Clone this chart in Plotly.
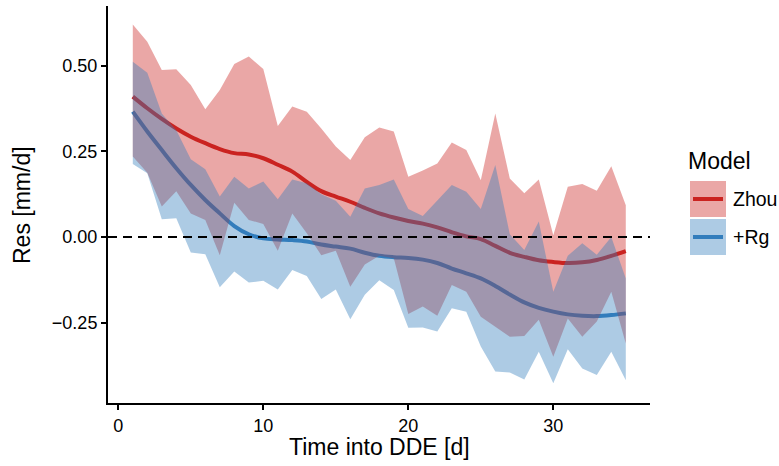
import plotly.graph_objects as go

# ---------------- data ----------------
days = list(range(1, 36))

zhou_upper = [0.621, 0.570, 0.488, 0.490, 0.444, 0.373, 0.429, 0.505, 0.527, 0.491,
              0.324, 0.381, 0.366, 0.317, 0.264, 0.225, 0.291, 0.320, 0.308, 0.176,
              0.194, 0.215, 0.276, 0.254, 0.166, 0.361, 0.171, 0.128, 0.168, 0.005,
              0.147, 0.155, 0.135, 0.207, 0.093]
zhou_lower = [0.235, 0.188, 0.089, 0.134, 0.069, 0.050, -0.053, 0.100, 0.050, 0.038,
              -0.040, 0.069, 0.011, -0.053, -0.040, -0.145, -0.080, -0.055, -0.062, -0.225,
              -0.203, -0.230, -0.140, -0.160, -0.233, -0.262, -0.291, -0.289, -0.242, -0.350,
              -0.238, -0.291, -0.247, -0.160, -0.311]
zhou_smooth = [0.410, 0.376, 0.345, 0.317, 0.293, 0.274, 0.257, 0.245, 0.241, 0.230,
               0.211, 0.191, 0.161, 0.134, 0.118, 0.103, 0.085, 0.069, 0.057, 0.047,
               0.039, 0.028, 0.014, 0.002, -0.006, -0.026, -0.046, -0.058, -0.068, -0.073,
               -0.076, -0.074, -0.067, -0.055, -0.041]

rg_upper = [0.512, 0.480, 0.361, 0.312, 0.227, 0.198, 0.118, 0.176, 0.142, 0.162,
            0.110, 0.168, 0.157, 0.125, 0.106, 0.059, 0.142, 0.152, 0.168, 0.082,
            0.061, 0.108, 0.152, 0.132, 0.082, 0.210, 0.008, -0.038, 0.045, -0.160,
            -0.055, -0.018, -0.052, 0.000, -0.121]
rg_lower = [0.213, 0.186, 0.052, 0.055, -0.045, -0.050, -0.147, -0.101, -0.133, -0.128,
            -0.153, -0.096, -0.114, -0.181, -0.153, -0.240, -0.169, -0.126, -0.155, -0.265,
            -0.264, -0.276, -0.208, -0.218, -0.320, -0.393, -0.396, -0.416, -0.335, -0.427,
            -0.328, -0.384, -0.403, -0.335, -0.418]
rg_smooth = [0.366, 0.308, 0.254, 0.201, 0.152, 0.108, 0.069, 0.032, 0.008, -0.004,
             -0.007, -0.009, -0.013, -0.022, -0.028, -0.034, -0.046, -0.055, -0.059, -0.061,
             -0.066, -0.076, -0.092, -0.106, -0.121, -0.143, -0.168, -0.191, -0.207, -0.218,
             -0.226, -0.230, -0.231, -0.228, -0.223]

series_names = ["Zhou", "+Rg"]
x_ticks = [0, 10, 20, 30]
y_ticks = [-0.25, 0.0, 0.25, 0.50]
y_tick_labels = ["\u22120.25", "0.00", "0.25", "0.50"]
ref_line_y = 0.0

x_title = "Time into DDE [d]"
y_title = "Res [mm/d]"
legend_title = "Model"

# ---------------- style ----------------
RED = (202, 35, 32)
BLUE = (50, 125, 188)
ALPHA = 0.4
FONT = "Liberation Sans, Arial, Helvetica, sans-serif"

def rgba(c, a):
    return f"rgba({c[0]},{c[1]},{c[2]},{a})"

W, H = 779, 466
L, R, T, B = 108, 129, 6, 63
PW, PH = W - L - R, H - T - B

def px(xpix):
    return (xpix - L) / PW

def py(ypix):
    return (H - B - ypix) / PH

fig = go.Figure()

# smooth lines drawn first (ribbons overlay them, as in the original)
for ys, col, name in [(zhou_smooth, RED, series_names[0]), (rg_smooth, BLUE, series_names[1])]:
    fig.add_trace(go.Scatter(x=days, y=ys, mode="lines", name=name,
                             line=dict(color=rgba(col, 1), width=4, shape="spline", smoothing=1.0),
                             showlegend=False, hoverinfo="skip"))

# ribbons
for up, lo, col, name in [(zhou_upper, zhou_lower, RED, series_names[0]),
                          (rg_upper, rg_lower, BLUE, series_names[1])]:
    fig.add_trace(go.Scatter(x=days + days[::-1], y=up + lo[::-1], mode="lines",
                             fill="toself", fillcolor=rgba(col, ALPHA),
                             line=dict(width=0, color=rgba(col, 0)), name=name,
                             showlegend=False, hoverinfo="skip"))

# dashed reference line at zero
fig.add_shape(type="line", xref="paper", x0=0, x1=1, yref="y", y0=ref_line_y, y1=ref_line_y,
              line=dict(color="black", width=2, dash="9px,6px"), layer="above")

# ---------------- manual legend ----------------
key_left, key_right = 690, 726
key_tops = [181, 219]
key_size = 36
annotations = []
for i, (col, name) in enumerate([(RED, series_names[0]), (BLUE, series_names[1])]):
    top = key_tops[i]
    fig.add_shape(type="rect", xref="paper", yref="paper",
                  x0=px(key_left), x1=px(key_right), y0=py(top), y1=py(top + key_size),
                  fillcolor=rgba(col, ALPHA), line=dict(width=0))
    ymid = top + key_size / 2
    fig.add_shape(type="line", xref="paper", yref="paper",
                  x0=px(key_left + 3), x1=px(key_right - 3), y0=py(ymid), y1=py(ymid),
                  line=dict(color=rgba(col, 1), width=4))
    annotations.append(dict(text=name, xref="paper", yref="paper", x=px(731), y=py(ymid),
                            xanchor="left", yanchor="middle", showarrow=False,
                            font=dict(size=19.5, color="black", family=FONT)))
annotations.append(dict(text=legend_title, xref="paper", yref="paper", x=px(686), y=py(161),
                        xanchor="left", yanchor="middle", showarrow=False,
                        font=dict(size=23, color="black", family=FONT)))
# axis titles
annotations.append(dict(text=x_title, xref="paper", yref="paper", x=px(379), y=py(447),
                        xanchor="center", yanchor="middle", showarrow=False,
                        font=dict(size=23, color="black", family=FONT)))
annotations.append(dict(text=y_title, xref="paper", yref="paper", x=px(22), y=py(205),
                        xanchor="center", yanchor="middle", showarrow=False, textangle=-90,
                        font=dict(size=23, color="black", family=FONT)))

fig.update_layout(
    width=W, height=H,
    margin=dict(l=L, r=R, t=T, b=B, pad=0),
    plot_bgcolor="white", paper_bgcolor="white",
    showlegend=False,
    annotations=annotations,
    font=dict(family=FONT, color="black"),
)
fig.update_xaxes(range=[-0.71, 36.67], tickvals=x_ticks, ticks="outside", ticklen=5,
                 tickwidth=1.5, tickcolor="black", showline=True, linecolor="black",
                 linewidth=2, showgrid=False, zeroline=False,
                 tickfont=dict(size=18, color="black", family=FONT))
fig.update_yaxes(range=[-0.4848, 0.6747], tickvals=y_ticks, ticktext=y_tick_labels,
                 ticks="outside", ticklen=5, tickwidth=1.5, tickcolor="black",
                 showline=True, linecolor="black", linewidth=2, showgrid=False,
                 zeroline=False, tickfont=dict(size=18, color="black", family=FONT))

fig.write_html("out.html",
               config={"displayModeBar": False},
               post_script="document.body.style.margin='0px';document.body.style.padding='0px';")
